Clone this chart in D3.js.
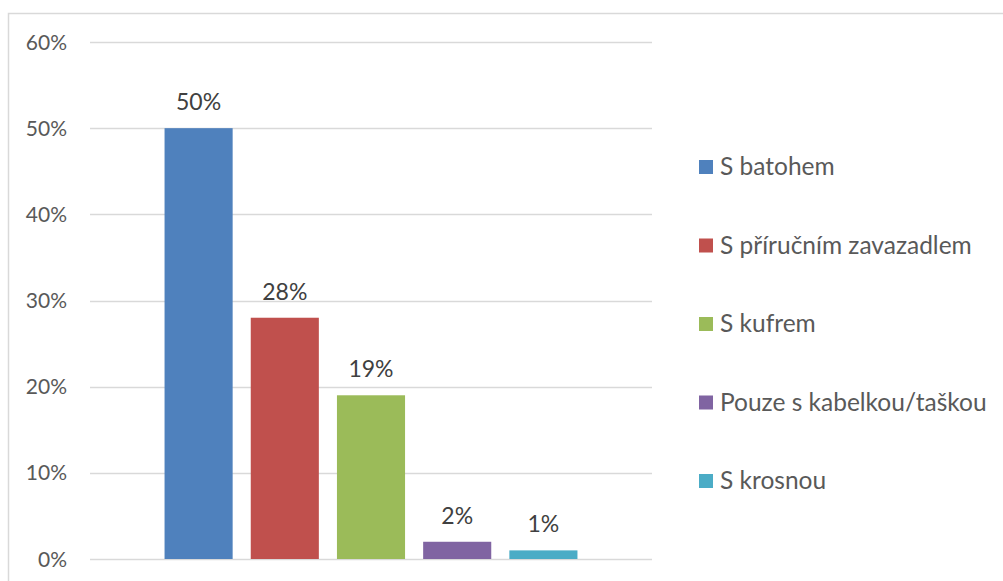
<!DOCTYPE html>
<html>
<head>
<meta charset="utf-8">
<script src="https://cdn.jsdelivr.net/npm/d3@7.9.0/dist/d3.min.js"></script>
<style>
  body { margin: 0; background: #fff; }
  svg { display: block; font-family: Lato, "Noto Sans", sans-serif; }
</style>
</head>
<body>
<svg width="1003" height="581"></svg>
<script>
const categories = ['S batohem', 'S příručním zavazadlem', 'S kufrem', 'Pouze s kabelkou/taškou', 'S krosnou'];
const values = [50, 28, 19, 2, 1];
const colors = ['#4f81bd', '#c0504d', '#9bbb59', '#8064a2', '#4bacc6'];
const yTicks = [0, 10, 20, 30, 40, 50, 60];

const svg = d3.select('svg');

// chart frame (only top and left edges show)
svg.append('path')
  .attr('d', 'M8.5,581 V13.5 H1003')
  .attr('fill', 'none')
  .attr('stroke', '#d9d9d9')
  .attr('stroke-width', 1.5);

let y = d3.scaleLinear().domain([0, 60]).range([559, 42]);
let x = d3.scaleBand().domain(categories).range([155.5, 586.5])
  .paddingInner(0.21).paddingOuter(0.105);

// gridlines
svg.append('g')
  .selectAll('line')
  .data(yTicks)
  .join('line')
  .attr('x1', 90).attr('x2', 652)
  .attr('y1', (d) => Math.round(y(d)) + 0.5)
  .attr('y2', (d) => Math.round(y(d)) + 0.5)
  .attr('stroke', '#d9d9d9')
  .attr('stroke-width', 1.5);

// y axis labels
svg.append('g')
  .selectAll('text')
  .data(yTicks)
  .join('text')
  .attr('x', 67)
  .attr('y', (d) => y(d) + 7.5)
  .attr('text-anchor', 'end')
  .attr('fill', '#595959')
  .attr('font-size', 21)
  .text((d) => d + '%');

// bars
svg.append('g')
  .selectAll('rect')
  .data(values)
  .join('rect')
  .attr('x', (d, i) => x(categories[i]))
  .attr('width', x.bandwidth())
  .attr('y', (d) => y(d))
  .attr('height', (d) => y(0) - y(d))
  .attr('fill', (d, i) => colors[i]);

// data labels
svg.append('g')
  .selectAll('text')
  .data(values)
  .join('text')
  .attr('x', (d, i) => x(categories[i]) + x.bandwidth() / 2)
  .attr('y', (d) => y(d) - 18)
  .attr('text-anchor', 'middle')
  .attr('fill', '#404040')
  .attr('font-size', 23)
  .text((d) => d + '%');

// legend
let legend = svg.append('g');
categories.forEach((c, i) => {
  let ly = 160 + i * 78.5;
  legend.append('rect')
    .attr('x', 699).attr('y', ly)
    .attr('width', 14).attr('height', 14)
    .attr('fill', colors[i]);
  legend.append('text')
    .attr('x', 720).attr('y', ly + 15)
    .attr('fill', '#595959')
    .attr('font-size', 24.5)
    .text(c);
});
</script>
</body>
</html>
